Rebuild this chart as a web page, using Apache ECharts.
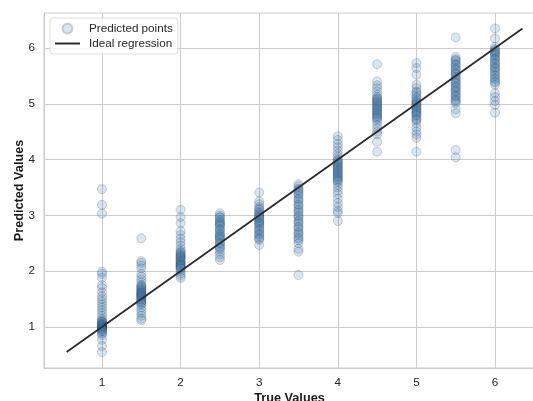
<!DOCTYPE html>
<html>
<head>
<meta charset="utf-8">
<script src="https://cdn.jsdelivr.net/npm/echarts@6/dist/echarts.min.js"></script>
<style>html,body{margin:0;padding:0;background:#fff}#c{width:533px;height:401px}</style>
</head>
<body>
<div id="c"></div>
<script>
// True values (x positions of the columns)
const trueValues = [1, 1.5, 2, 2.5, 3, 3.5, 4, 4.5, 5, 5.5, 6];
// Predicted values per true value (dark spots = overlapping points)
const pred1   = [3.47, 3.19, 3.03, 1.99, 1.95, 1.88, 1.75, 1.70, 1.62, 1.55, 1.50, 1.45, 1.40, 1.35, 1.30, 1.25, 1.20, 1.15, 1.12, 1.10, 1.09, 1.08, 1.06, 1.05, 1.04, 1.03, 1.02, 1.01, 1.00, 0.99, 0.98, 0.97, 0.96, 0.95, 0.93, 0.92, 0.90, 0.88, 0.85, 0.77, 0.66, 0.55];
const pred1_5 = [2.59, 2.18, 2.15, 2.10, 2.05, 1.95, 1.90, 1.85, 1.80, 1.75, 1.74, 1.72, 1.70, 1.68, 1.67, 1.65, 1.63, 1.62, 1.61, 1.60, 1.58, 1.57, 1.56, 1.55, 1.53, 1.52, 1.50, 1.49, 1.47, 1.45, 1.44, 1.42, 1.40, 1.35, 1.30, 1.25, 1.20, 1.15, 1.12];
const pred2   = [3.10, 2.97, 2.86, 2.72, 2.65, 2.58, 2.52, 2.46, 2.40, 2.36, 2.34, 2.32, 2.30, 2.28, 2.27, 2.25, 2.24, 2.22, 2.20, 2.18, 2.17, 2.15, 2.13, 2.12, 2.11, 2.10, 2.08, 2.07, 2.05, 2.04, 2.00, 1.96, 1.92, 1.88];
const pred2_5 = [3.04, 3.00, 2.97, 2.96, 2.92, 2.90, 2.88, 2.86, 2.84, 2.82, 2.80, 2.76, 2.74, 2.72, 2.68, 2.66, 2.64, 2.62, 2.60, 2.58, 2.56, 2.52, 2.50, 2.48, 2.44, 2.42, 2.40, 2.35, 2.30, 2.25, 2.20];
const pred3   = [3.41, 3.25, 3.20, 3.15, 3.12, 3.10, 3.06, 3.04, 3.02, 3.00, 2.98, 2.96, 2.95, 2.92, 2.90, 2.88, 2.86, 2.85, 2.82, 2.80, 2.76, 2.74, 2.72, 2.68, 2.66, 2.64, 2.60, 2.58, 2.56, 2.47];
const pred3_5 = [3.56, 3.52, 3.48, 3.46, 3.44, 3.40, 3.38, 3.35, 3.30, 3.28, 3.25, 3.20, 3.18, 3.15, 3.10, 3.08, 3.05, 3.00, 2.98, 2.95, 2.90, 2.88, 2.85, 2.80, 2.78, 2.75, 2.70, 2.68, 2.65, 2.60, 2.58, 2.55, 2.50, 2.40, 2.35, 1.93];
const pred4   = [4.42, 4.35, 4.28, 4.22, 4.16, 4.10, 4.05, 4.00, 3.98, 3.96, 3.94, 3.92, 3.90, 3.88, 3.86, 3.84, 3.82, 3.80, 3.78, 3.76, 3.74, 3.72, 3.70, 3.68, 3.66, 3.64, 3.62, 3.60, 3.55, 3.50, 3.44, 3.38, 3.30, 3.22, 3.15, 3.08, 3.04, 2.90];
const pred4_5 = [5.71, 5.40, 5.33, 5.28, 5.22, 5.16, 5.12, 5.10, 5.08, 5.06, 5.04, 5.02, 5.00, 4.98, 4.96, 4.94, 4.92, 4.90, 4.88, 4.86, 4.84, 4.82, 4.80, 4.78, 4.76, 4.74, 4.72, 4.68, 4.62, 4.56, 4.50, 4.45, 4.32, 4.14];
const pred5   = [5.73, 5.64, 5.52, 5.34, 5.28, 5.22, 5.20, 5.16, 5.12, 5.10, 5.06, 5.04, 5.02, 5.00, 4.98, 4.96, 4.94, 4.92, 4.90, 4.88, 4.86, 4.84, 4.82, 4.80, 4.78, 4.74, 4.72, 4.70, 4.65, 4.57, 4.50, 4.45, 4.39, 4.14];
const pred5_5 = [6.19, 5.84, 5.80, 5.78, 5.76, 5.72, 5.70, 5.68, 5.64, 5.62, 5.60, 5.56, 5.54, 5.52, 5.48, 5.46, 5.44, 5.40, 5.38, 5.36, 5.32, 5.30, 5.28, 5.24, 5.22, 5.20, 5.16, 5.14, 5.12, 5.08, 5.06, 5.04, 5.01, 4.90, 4.83, 4.17, 4.04];
const pred6   = [6.35, 6.17, 6.02, 5.98, 5.96, 5.94, 5.92, 5.90, 5.88, 5.86, 5.82, 5.80, 5.78, 5.74, 5.72, 5.70, 5.66, 5.64, 5.62, 5.58, 5.56, 5.52, 5.50, 5.46, 5.44, 5.40, 5.38, 5.34, 5.19, 5.12, 5.05, 4.98, 4.84];
const predictedByTrue = [pred1, pred1_5, pred2, pred2_5, pred3, pred3_5, pred4, pred4_5, pred5, pred5_5, pred6];
// Ideal regression line end points (min and max of predictions)
const idealLine = [0.55, 6.35];
// Tick labels
const xTicks = [1, 2, 3, 4, 5, 6];
const yTicks = [1, 2, 3, 4, 5, 6];

const scatterData = [];
trueValues.forEach((t, i) => predictedByTrue[i].forEach(p => scatterData.push([t, p])));
const lineData = idealLine.map(v => [v, v]);

const FONT = '"Liberation Sans", Arial, Helvetica, sans-serif';
const chart = echarts.init(document.getElementById('c'), null, {renderer: 'canvas'});
chart.setOption({
  animation: false,
  backgroundColor: '#ffffff',
  grid: {left: 44, right: -2, top: 13, bottom: 33, show: true, borderColor: '#cccccc', borderWidth: 1,
         containLabel: false, outerBoundsMode: 'none'},
  legend: {
    left: 50, top: 18, orient: 'vertical',
    padding: [4, 5, 4, 4], itemGap: 2, itemWidth: 25, itemHeight: 10,
    backgroundColor: 'rgba(255,255,255,0.8)', borderColor: '#dddddd', borderWidth: 1, borderRadius: 3,
    textStyle: {fontFamily: FONT, fontSize: 11.7, color: '#262626', lineHeight: 13, padding: [0, 0, 0, 4]},
    data: [
      {name: 'Predicted points', icon: 'circle'},
      {name: 'Ideal regression', itemStyle: {opacity: 0}}
    ]
  },
  xAxis: {
    type: 'value', min: 0.262, max: 6.509,
    name: 'True Values', nameLocation: 'middle', nameGap: 24, nameMoveOverlap: false,
    nameTextStyle: {fontFamily: FONT, fontSize: 12.7, fontWeight: 'bold', color: '#1a1a1a'},
    axisLine: {show: true, lineStyle: {color: '#cccccc', width: 1}},
    axisTick: {show: false, customValues: xTicks},
    axisLabel: {customValues: xTicks, fontFamily: FONT, fontSize: 11.7, color: '#262626', margin: 9},
    splitLine: {show: true, lineStyle: {color: '#cccccc', width: 1}}
  },
  yAxis: {
    type: 'value', min: 0.265, max: 6.627,
    name: 'Predicted Values', nameLocation: 'middle', nameGap: 18, nameMoveOverlap: false,
    nameTextStyle: {fontFamily: FONT, fontSize: 12.7, fontWeight: 'bold', color: '#1a1a1a'},
    axisLine: {show: true, lineStyle: {color: '#cccccc', width: 1}},
    axisTick: {show: false, customValues: yTicks},
    axisLabel: {customValues: yTicks, fontFamily: FONT, fontSize: 11.7, color: '#262626', margin: 9},
    splitLine: {show: true, lineStyle: {color: '#cccccc', width: 1}}
  },
  series: [
    {
      name: 'Predicted points', type: 'scatter', data: scatterData,
      symbol: 'circle', symbolSize: 9,
      itemStyle: {color: '#4080bc', borderColor: '#1c2c3c', borderWidth: 1, opacity: 0.2},
      z: 2
    },
    {
      name: 'Ideal regression', type: 'line', data: lineData,
      symbol: 'none', showSymbol: false,
      lineStyle: {color: '#2b2b2b', width: 1.8},
      itemStyle: {color: '#2b2b2b'},
      z: 3
    }
  ]
});
</script>
</body>
</html>
